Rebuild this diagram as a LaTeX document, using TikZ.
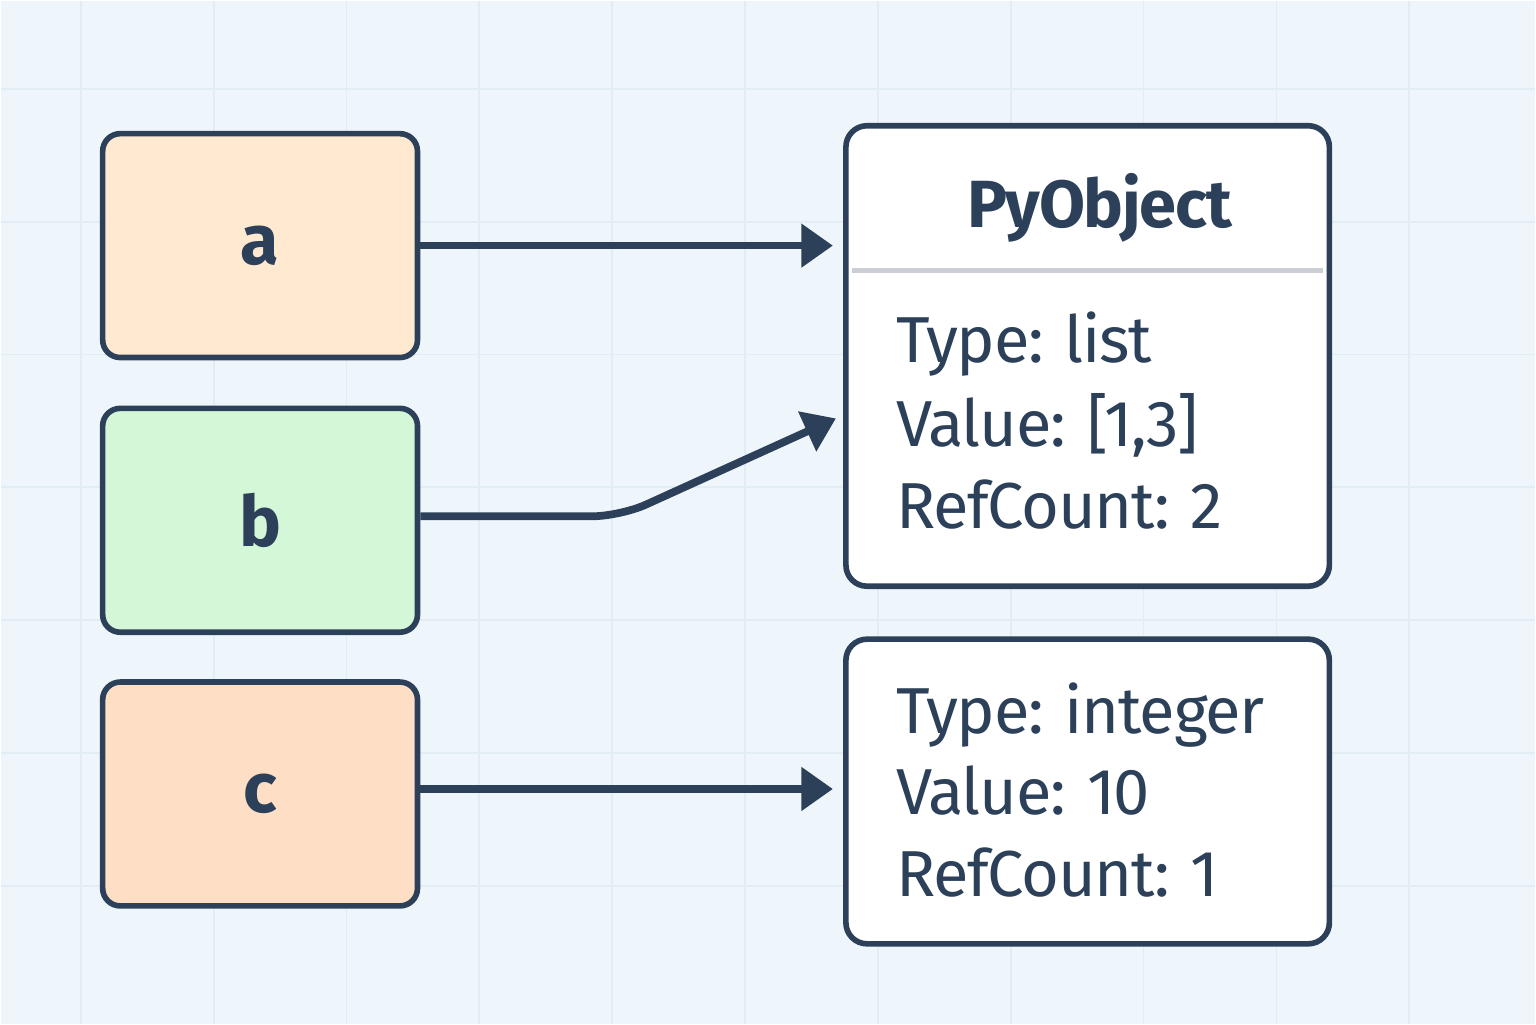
\documentclass[tikz,border=0pt]{standalone}
\usepackage{fontspec}
\setmainfont{Fira Sans}[LetterSpace=-2]
\usetikzlibrary{arrows.meta}
\definecolor{bg}{HTML}{EEF6FB}
\definecolor{grid}{HTML}{E2ECF3}
\definecolor{ink}{HTML}{2C4159}
\definecolor{fa}{HTML}{FFE9D0}
\definecolor{fb}{HTML}{D4F8D7}
\definecolor{fc}{HTML}{FFDEC6}
\begin{document}
\begin{tikzpicture}[x=0.01cm,y=-0.01cm,
  var/.style={draw=ink,line width=1.6pt,rounded corners=5pt,minimum width=3.15cm,minimum height=2.24cm,font=\fontsize{20}{24}\selectfont\bfseries,text=ink},
  obj/.style={draw=ink,line width=1.6pt,rounded corners=6pt,fill=white},
  txt/.style={anchor=base west,font=\fontsize{18.5}{22}\selectfont,text=ink},
  arr/.style={draw=ink,line width=2.2pt,-{Triangle[length=9pt,width=12pt]}}]
\fill[bg] (0,0) rectangle (1536,1024);
\foreach \x in {80,213,346,479,612,745,878,1011,1144,1277,1410} \draw[grid,line width=0.5pt] (\x,0) -- (\x,1024);
\foreach \y in {88,221,354,487,620,753,886} \draw[grid,line width=0.5pt] (0,\y) -- (1536,\y);
\node[var,fill=fa] (a) at (259.5,245) {a};
\node[var,fill=fb] (b) at (259.5,520) {b};
\node[var,fill=fc] (c) at (259.5,794) {c};
\draw[obj] (846,125) rectangle (1330,586);
\draw[obj] (846,639) rectangle (1330,944);
\draw[line width=1.5pt,draw=ink!25] (852,270) -- (1324,270);
\node[anchor=base,font=\fontsize{19}{23}\selectfont\bfseries,text=ink] (t) at (1100,227) {PyObject};
\node[txt] (l1) at (884,362) {Type: list};
\node[txt] (l2) at (884,446) {Value: [1,3]};
\node[txt] (l3) at (884,528) {RefCount: 2};
\node[txt] (m1) at (884,733) {Type: integer};
\node[txt] (m2) at (884,815) {Value: 10};
\node[txt] (m3) at (884,897) {RefCount: 1};
\coordinate (pa) at (833,245);
\coordinate (pb) at (836,418);
\coordinate (pc) at (833,789);
\coordinate (kb) at (620,516);
\draw[arr] (a.east) -- (pa);
\draw[arr,rounded corners=8pt] (b.east|-kb) -- (kb) -- (pb);
\draw[arr] (c.east|-pc) -- (pc);
\end{tikzpicture}
\end{document}
